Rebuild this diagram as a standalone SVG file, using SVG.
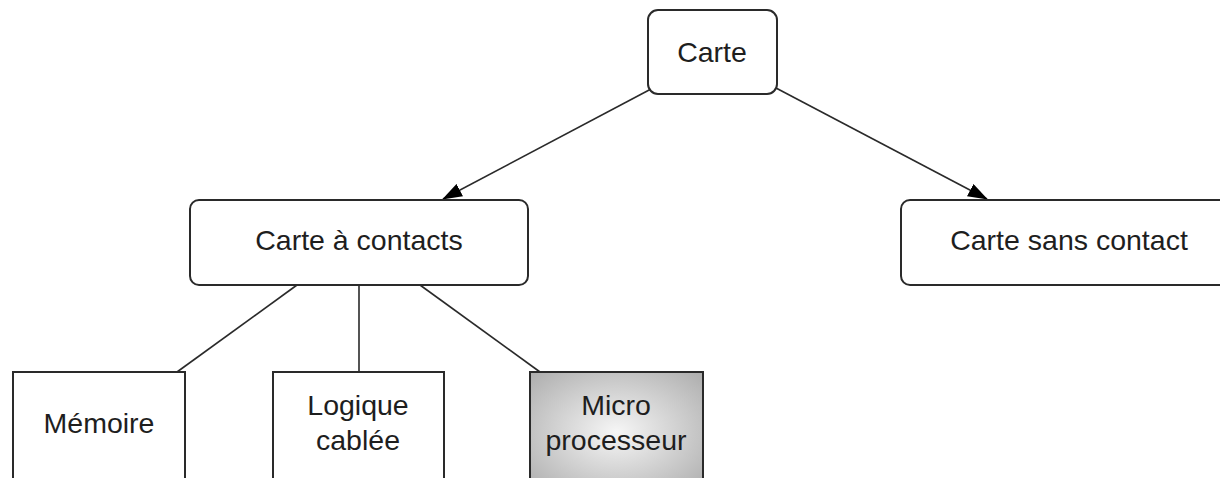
<svg xmlns="http://www.w3.org/2000/svg" width="1220" height="478" viewBox="0 0 1220 478">
  <style>
    .box { fill: #ffffff; stroke: #2a2a2a; stroke-width: 2; }
    .label { font-family: "Liberation Sans", Arial, sans-serif; font-size: 28.5px; fill: #1e1e1e; text-anchor: middle; }
    .edge { stroke: #2a2a2a; stroke-width: 1.6; fill: none; }
  </style>
  <defs>
    <marker id="arrow" viewBox="0 0 20 14" refX="19" refY="7" markerWidth="20" markerHeight="14" markerUnits="userSpaceOnUse" orient="auto">
      <path d="M0,0 L20,7 L0,14 Z" fill="#000000"/>
    </marker>
    <radialGradient id="chipFill" cx="50%" cy="50%" r="75%">
      <stop offset="0" stop-color="#f6f6f6"/>
      <stop offset="1" stop-color="#a8a8a8"/>
    </radialGradient>
  </defs>
  <rect width="1220" height="478" fill="#ffffff"/>

  <g id="connectors">
    <line class="edge" x1="651" y1="89" x2="443" y2="199" marker-end="url(#arrow)"/>
    <line class="edge" x1="776" y1="88" x2="987" y2="199" marker-end="url(#arrow)"/>
    <line class="edge" x1="297" y1="285" x2="177" y2="372"/>
    <line class="edge" x1="359" y1="285" x2="359" y2="372"/>
    <line class="edge" x1="420" y1="285" x2="540" y2="372"/>
  </g>

  <g id="carte">
    <rect class="box" x="648" y="10" width="129" height="84" rx="10"/>
    <text class="label" x="712" y="62">Carte</text>
  </g>

  <g id="carte-contacts">
    <rect class="box" x="190" y="200" width="338" height="85" rx="9"/>
    <text class="label" x="359" y="250">Carte à contacts</text>
  </g>

  <g id="carte-sans-contact">
    <rect class="box" x="901" y="200" width="336" height="85" rx="9"/>
    <text class="label" x="1069" y="250">Carte sans contact</text>
  </g>

  <g id="memoire">
    <rect class="box" x="13" y="372" width="172" height="120"/>
    <text class="label" x="99" y="433">Mémoire</text>
  </g>

  <g id="logique-cablee">
    <rect class="box" x="273" y="372" width="171" height="120"/>
    <text class="label" x="358" y="415">Logique</text>
    <text class="label" x="358" y="450">cablée</text>
  </g>

  <g id="microprocesseur">
    <rect class="box" x="530" y="372" width="173" height="120" style="fill:url(#chipFill)"/>
    <text class="label" x="616" y="415">Micro</text>
    <text class="label" x="616" y="450">processeur</text>
  </g>
</svg>
